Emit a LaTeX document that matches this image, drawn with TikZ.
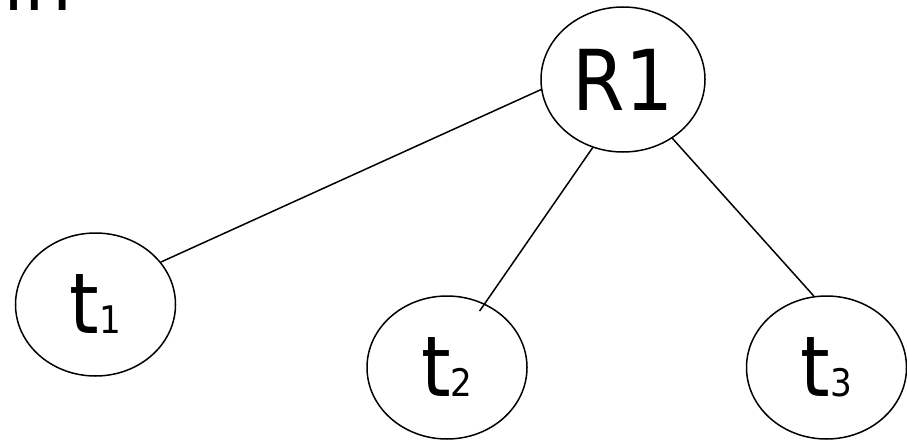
\documentclass[tikz,border=0pt]{standalone}
\usepackage{fontspec}
\setmainfont{DejaVu Sans Condensed}
\usetikzlibrary{shapes.geometric,calc}

\newcommand{\tsub}[1]{t{\fontsize{38}{38}\selectfont #1}}

\begin{document}
\begin{tikzpicture}[
    x=1pt, y=-1pt,
    knoten/.style={ellipse, draw=black, line width=1.5pt, minimum width=160pt, minimum height=143pt,
                   inner sep=0pt, font=\fontsize{84}{84}\selectfont},
    kante/.style={draw=black, line width=1.5pt},
  ]
  \useasboundingbox (0,0) rectangle (907,441);

  % Rest einer Textzeile am oberen Rand
  \node[anchor=base west, inner sep=0pt, font=\fontsize{84}{84}\selectfont] (rest) at (3,11) {in};

  % Wurzel und Blätter
  \node[knoten, minimum width=164pt, minimum height=145pt] (R1) at (623,79.5) {R1};
  \node[knoten] (t1) at (95.5,304.5) {\tsub{1}};
  \node[knoten] (t2) at (447,367.5) {\tsub{2}};
  \node[knoten] (t3) at (826.5,367.5) {\tsub{3}};

  % Kanten zwischen Wurzel und Blättern
  \draw[kante] (R1.187) -- (t1.33);
  \draw[kante] (R1.246) -- ($(t2.center)!0.88!(t2.60)$);
  \draw[kante] (R1.310) -- (t3.100);
\end{tikzpicture}
\end{document}
